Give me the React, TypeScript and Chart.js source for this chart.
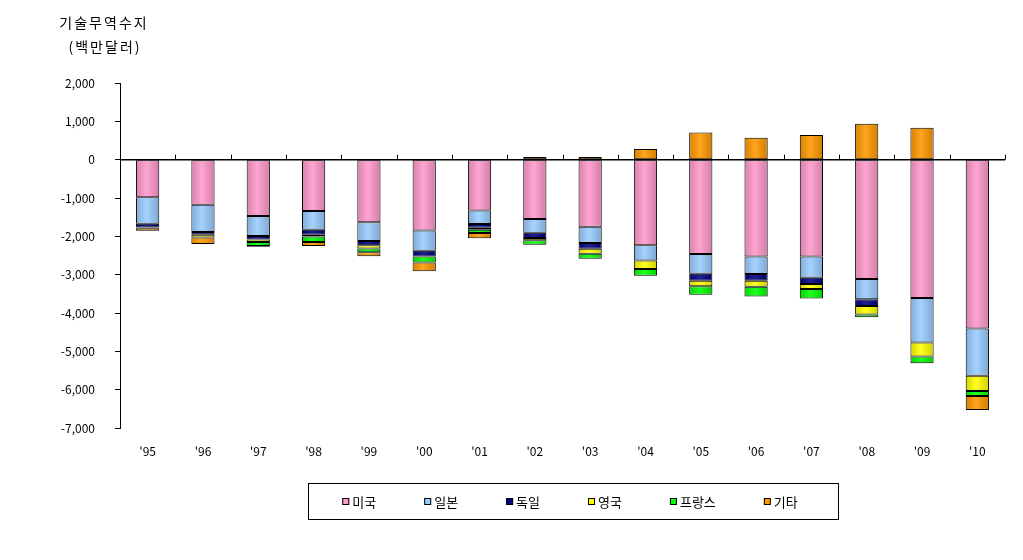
import React, { useEffect, useRef } from "react";
import { Chart, registerables } from "chart.js";

Chart.register(...registerables);

const years = ["'95", "'96", "'97", "'98", "'99", "'00", "'01", "'02", "'03", "'04", "'05", "'06", "'07", "'08", "'09", "'10"];
const seriesNames = ["미국", "일본", "독일", "영국", "프랑스", "기타"];
const usa = [-980, -1175, -1470, -1340, -1635, -1850, -1325, -1550, -1750, -2235, -2460, -2525, -2525, -3115, -3610, -4405];
const japan = [-690, -715, -520, -490, -485, -525, -355, -355, -425, -395, -515, -460, -555, -525, -1160, -1230];
const germany = [-100, -70, -95, -130, -115, -150, -95, -140, -150, 0, -185, -175, -165, -175, 0, 0];
const uk = [-20, -70, -60, -45, -85, 0, -50, -60, -130, -225, -145, -155, -130, -225, -365, -400];
const france = [0, 0, -105, -145, -95, -155, -85, -115, -130, -175, -220, -255, -245, -70, -175, -130];
const others = [-65, -170, -20, -105, -105, -230, -140, 70, 70, 280, 710, 575, 645, 940, 835, -365];
const yTicks = [2000, 1000, 0, -1000, -2000, -3000, -4000, -5000, -6000, -7000];
const colors = ["#FF99CC", "#99CCFF", "#000080", "#FFFF00", "#00FF00", "#FF9900"];

const FONT = '"Noto Sans CJK KR", "DejaVu Sans", sans-serif';

function shade(hex: string, f: number) {
  const n = parseInt(hex.slice(1), 16);
  const ch = [(n >> 16) & 255, (n >> 8) & 255, n & 255].map((c) =>
    f < 1 ? Math.round(c * f) : Math.round(c + (255 - c) * (f - 1))
  );
  return `rgb(${ch[0]},${ch[1]},${ch[2]})`;
}

export default function App() {
  const ref = useRef<HTMLCanvasElement | null>(null);

  useEffect(() => {
    if (!ref.current) return;
    const values = [usa, japan, germany, uk, france, others];

    const shading = {
      id: "shading",
      beforeDatasetsDraw(chart: any) {
        chart.data.datasets.forEach((_: any, di: number) => {
          const meta = chart.getDatasetMeta(di);
          meta.data.forEach((el: any) => {
            if (el.__shaded) return;
            el.__shaded = true;
            const orig = el.draw.bind(el);
            el.draw = (ctx: CanvasRenderingContext2D) => {
              const w = el.width;
              const g = ctx.createLinearGradient(el.x - w / 2, 0, el.x + w / 2, 0);
              const col = colors[di];
              g.addColorStop(0, shade(col, 0.84));
              g.addColorStop(0.45, shade(col, 1.12));
              g.addColorStop(1, shade(col, 0.82));
              const o = el.options;
              const saved = o.backgroundColor;
              o.backgroundColor = g;
              orig(ctx);
              o.backgroundColor = saved;
            };
          });
        });
      },
    };

    const overlay = {
      id: "overlay",
      afterDatasetsDraw(chart: any) {
        const { ctx, chartArea, scales } = chart;
        const y0 = scales.y.getPixelForValue(0);
        const n = years.length;
        const w = (chartArea.right - chartArea.left) / n;
        ctx.save();
        ctx.strokeStyle = "#000";
        ctx.lineWidth = 1.5;
        ctx.beginPath();
        ctx.moveTo(chartArea.left, y0);
        ctx.lineTo(chartArea.right, y0);
        ctx.stroke();
        ctx.lineWidth = 1;
        for (let i = 1; i <= n; i++) {
          const x = Math.round(chartArea.left + i * w) + 0.5;
          ctx.beginPath();
          ctx.moveTo(x, y0);
          ctx.lineTo(x, y0 - 5);
          ctx.stroke();
        }
        ctx.restore();
      },
      afterDraw(chart: any) {
        const { ctx } = chart;
        ctx.save();
        ctx.fillStyle = "#000";
        ctx.font = `14px ${FONT}`;
        ctx.textAlign = "center";
        ctx.textBaseline = "middle";
        (ctx as any).letterSpacing = "2px";
        ctx.fillText("기술무역수지", 96, 15);
        ctx.fillText("(백만달러)", 97, 39);
        (ctx as any).letterSpacing = "0px";
        const bx = 300, by = 475, bw = 530, bh = 36;
        ctx.strokeStyle = "#000";
        ctx.lineWidth = 1;
        ctx.strokeRect(bx + 0.5, by + 0.5, bw, bh);
        ctx.font = `13px ${FONT}`;
        ctx.textAlign = "left";
        const box = 7, gapText = 3, gap = 48;
        const widths = seriesNames.map((s) => box + gapText + ctx.measureText(s).width);
        const total = widths.reduce((a, b) => a + b, 0) + gap * (widths.length - 1);
        let x = bx + (bw - total) / 2 - 3;
        const cy = by + bh / 2;
        seriesNames.forEach((s, i) => {
          ctx.fillStyle = colors[i];
          ctx.fillRect(x, cy - 3, box, box);
          ctx.strokeStyle = "#000";
          ctx.strokeRect(x + 0.5, cy - 2.5, box - 1, box - 1);
          ctx.fillStyle = "#000";
          ctx.fillText(s, x + box + gapText, cy + 1);
          x += widths[i] + gap;
        });
        ctx.restore();
      },
    };

    const chart = new Chart(ref.current, {
      type: "bar",
      data: {
        labels: years,
        datasets: values.map((v, i) => ({
          label: seriesNames[i],
          data: v,
          backgroundColor: colors[i],
          borderColor: "#000",
          borderWidth: 1,
          borderSkipped: false,
          inflateAmount: 0,
          barPercentage: 0.42,
          categoryPercentage: 1,
        })),
      },
      options: {
        responsive: false,
        animation: false,
        layout: { padding: { top: 75, right: 10, left: 0, bottom: 0 } },
        plugins: { legend: { display: false }, tooltip: { enabled: false }, title: { display: false } },
        scales: {
          x: {
            stacked: true,
            grid: { display: false, drawTicks: false },
            border: { display: false },
            ticks: { color: "#000", font: { family: FONT, size: 12 }, padding: 16, maxRotation: 0 },
            afterFit(scale: any) {
              scale.height = 124;
            },
          },
          y: {
            stacked: true,
            min: -7000,
            max: 2000,
            afterBuildTicks(scale: any) {
              scale.ticks = yTicks.map((v) => ({ value: v }));
            },
            afterFit(scale: any) {
              scale.width = 112;
            },
            grid: { drawOnChartArea: false, drawTicks: true, tickLength: 5, color: "#000" },
            border: { display: true, color: "#000", width: 1 },
            ticks: {
              color: "#000",
              font: { family: FONT, size: 12 },
              padding: 20,
              callback: (v: any) => Number(v).toLocaleString("en-US"),
            },
          },
        },
      },
      plugins: [shading, overlay],
    });
    return () => chart.destroy();
  }, []);

  return (
    <div style={{ width: 1007, height: 544 }}>
      <canvas ref={ref} width={1007} height={544} />
    </div>
  );
}
